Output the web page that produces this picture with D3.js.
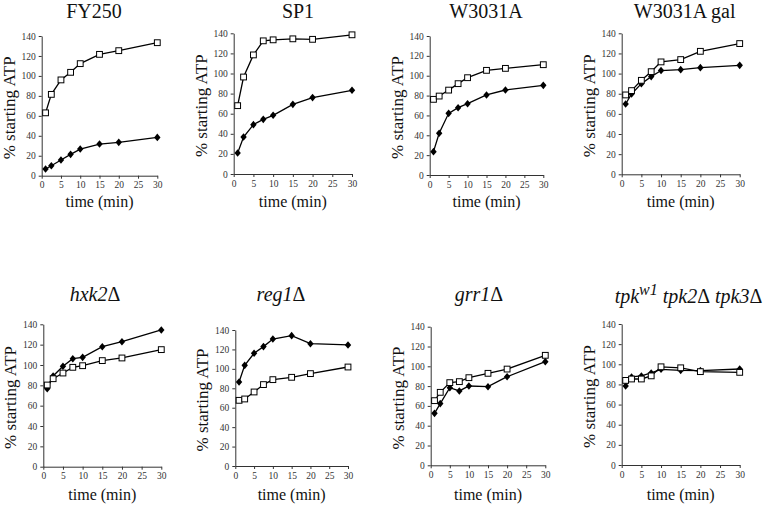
<!DOCTYPE html>
<html>
<head>
<meta charset="utf-8">
<script src="https://cdn.jsdelivr.net/npm/d3@7"></script>
<style>
  html, body { margin: 0; padding: 0; background: #fff; }
  svg { display: block; }
  svg text { font-family: "Liberation Serif", "Times New Roman", serif; }
</style>
</head>
<body>
<svg id="chart" width="768" height="508"></svg>
<script>
// ---- data ----
const times = [1, 2.5, 5, 7.5, 10, 15, 20, 30];
const xTicks = [0, 5, 10, 15, 20, 25, 30];
const yTicks = [0, 20, 40, 60, 80, 100, 120, 140];
const panelNames = ["FY250", "SP1", "W3031A", "W3031A gal", "hxk2", "reg1", "grr1", "tpk2Δ tpk3Δ"];
const yLabel = "% starting ATP";
const xLabel = "time (min)";

const squareSeries = [
  [63, 81.5, 96, 103.6, 112.3, 121.6, 125.3, 133.3],   // FY250
  [68, 96.5, 118.5, 132.5, 133.5, 134.5, 134, 138.5],  // SP1
  [76.2, 79.5, 85.5, 92, 98, 105.4, 107.4, 111.1],     // W3031A
  [78.8, 83.1, 93.3, 101.9, 111.6, 113.9, 122.1, 129.8], // W3031A gal
  [80.3, 86.5, 92.1, 97.7, 99.3, 104.3, 106.9, 115.1], // hxk2
  [67.6, 69, 76.2, 83.8, 88.9, 91.3, 95.1, 101.9],     // reg1
  [65.3, 73.7, 83.5, 84.5, 88.5, 92.9, 97.2, 111.1],   // grr1
  [84, 85.4, 85.4, 88.5, 97.5, 96.5, 92.7, 92.0]       // tpk
];
const diamondSeries = [
  [6.7, 10, 15.7, 21.4, 26.7, 31.7, 33.4, 38.4],
  [20.9, 36.8, 49.1, 54.4, 58.4, 69.3, 76, 83.3],
  [23.5, 42, 62.1, 67.8, 71.8, 80.6, 85.6, 90.3],
  [69.8, 79.8, 90, 97, 103, 103.9, 105.9, 108.2],
  [76.7, 89.2, 98.7, 106.2, 107.5, 118, 122.9, 134.4],
  [86.5, 103.6, 116, 122.9, 130.7, 134.2, 125.9, 124.6],
  [52.5, 62.3, 78.4, 75.1, 80.1, 79.4, 89.5, 104.7],
  [78.5, 87.4, 88.4, 91.4, 95, 94, 93.7, 95.3]
];

// ---- layout (pixel geometry of each panel) ----
const layout = [
  { x0: 41.7, x1: 157.3, yTop: 36,    yBot: 175.7, tx: 94,    ty: 17.5, xl: 207 },
  { x0: 233.7, x1: 352,  yTop: 33.3,  yBot: 174,   tx: 298,   ty: 17.5, xl: 207 },
  { x0: 429.7, x1: 543.3, yTop: 36,   yBot: 175,   tx: 486,   ty: 17.5, xl: 207 },
  { x0: 621.7, x1: 739.7, yTop: 33.3, yBot: 174.3, tx: 684.7, ty: 17.5, xl: 207 },
  { x0: 43.3, x1: 161.3, yTop: 324.3, yBot: 466.7, tx: 95,    ty: 300.5, xl: 500 },
  { x0: 235.3, x1: 348,  yTop: 330,   yBot: 466,   tx: 281,   ty: 300.5, xl: 500 },
  { x0: 430.7, x1: 545.3, yTop: 326.7, yBot: 465.3, tx: 479,  ty: 300.5, xl: 500 },
  { x0: 621.7, x1: 739.7, yTop: 324,  yBot: 465,   tx: 688.5, ty: 302.5, xl: 500 }
];

const svg = d3.select("#chart");
const serif = '"Liberation Serif", "Times New Roman", serif';

panelNames.forEach((name, i) => {
  const L = layout[i];
  const x = d3.scaleLinear().domain([0, 30]).range([L.x0, L.x1]);
  const y = d3.scaleLinear().domain([0, 140]).range([L.yBot, L.yTop]);
  const g = svg.append("g");

  // axes
  const xAxis = g.append("g").attr("transform", `translate(0,${L.yBot})`)
    .call(d3.axisBottom(x).tickValues(xTicks).tickSize(3).tickPadding(3).tickSizeOuter(0));
  const yAxis = g.append("g").attr("transform", `translate(${L.x0},0)`)
    .call(d3.axisLeft(y).tickValues(yTicks).tickSize(3).tickPadding(3).tickSizeOuter(0));
  [xAxis, yAxis].forEach(a => {
    a.attr("font-family", serif).style("font-family", serif);
    a.select(".domain").attr("stroke", "#333").attr("stroke-width", 1);
    a.selectAll(".tick line").attr("stroke", "#333");
    a.selectAll("text").style("font-family", serif).attr("font-size", 9.5).attr("fill", "#333");
  });

  // lines
  const line = d3.line().x((d, k) => x(times[k])).y(d => y(d));
  g.append("path").datum(squareSeries[i]).attr("d", line)
    .attr("fill", "none").attr("stroke", "#000").attr("stroke-width", 1.3);
  g.append("path").datum(diamondSeries[i]).attr("d", line)
    .attr("fill", "none").attr("stroke", "#000").attr("stroke-width", 1.3);

  // diamond markers
  g.selectAll(".dia").data(diamondSeries[i]).enter().append("path")
    .attr("transform", (d, k) => `translate(${x(times[k])},${y(d)})`)
    .attr("d", "M0,-3.8L3.2,0L0,3.8L-3.2,0Z")
    .attr("fill", "#000");

  // square markers
  const s = 5.8;
  g.selectAll(".sq").data(squareSeries[i]).enter().append("rect")
    .attr("x", (d, k) => x(times[k]) - s / 2)
    .attr("y", d => y(d) - s / 2)
    .attr("width", s).attr("height", s)
    .attr("fill", "#fff").attr("stroke", "#000").attr("stroke-width", 1);

  // y label
  const cy = (L.yTop + L.yBot) / 2 + 2;
  g.append("text")
    .attr("transform", `translate(${L.x0 - 27},${cy}) rotate(-90)`)
    .attr("text-anchor", "middle")
    .attr("font-size", 17)
    .attr("fill", "#111")
    .text(yLabel);

  // x label
  g.append("text")
    .attr("x", (L.x0 + L.x1) / 2)
    .attr("y", L.xl)
    .attr("text-anchor", "middle")
    .attr("font-size", 16)
    .attr("fill", "#111")
    .text(xLabel);

  // title
  const t = g.append("text")
    .attr("x", L.tx).attr("y", L.ty)
    .attr("text-anchor", "middle")
    .attr("font-size", 20)
    .attr("fill", "#111");
  if (i < 4) {
    t.text(name);
  } else if (i < 7) {
    t.append("tspan").attr("font-style", "italic").text(name);
    t.append("tspan").text("Δ");
  } else {
    t.append("tspan").attr("font-style", "italic").text("tpk");
    t.append("tspan").attr("dy", -8).attr("font-size", 16).attr("font-style", "italic").text("w1");
    t.append("tspan").attr("dy", 8).attr("font-style", "italic").text(" tpk2");
    t.append("tspan").text("Δ");
    t.append("tspan").attr("font-style", "italic").text(" tpk3");
    t.append("tspan").text("Δ");
  }
});
</script>
</body>
</html>
